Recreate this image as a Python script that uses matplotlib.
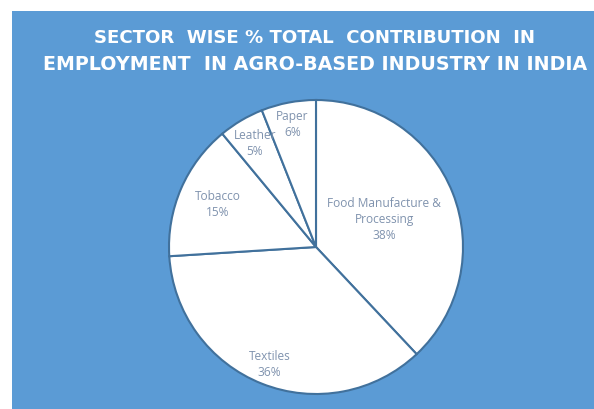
import numpy as np
import matplotlib
matplotlib.use("Agg")
import matplotlib.pyplot as plt
from matplotlib.patches import Rectangle

categories = ["Food Manufacture &\nProcessing", "Textiles", "Tobacco", "Leather", "Paper"]
values = [38, 36, 15, 5, 6]
title_lines = ["SECTOR  WISE % TOTAL  CONTRIBUTION  IN",
               "EMPLOYMENT  IN AGRO-BASED INDUSTRY IN INDIA"]

label_r = [0.50, 0.86, 0.73, 0.82, 0.85]

BLUE = "#5B9BD5"
EDGE = "#41719C"
TXT = "#8093AE"

fig = plt.figure(figsize=(5.94, 4.09), dpi=100)
fig.patch.set_facecolor("white")
fig.add_artist(Rectangle((12/594, 0), 1 - 12/594, (409 - 11)/409,
                         transform=fig.transFigure, facecolor=BLUE,
                         edgecolor="none", zorder=0))

cx, cy, R = 316, 247, 147
ax = fig.add_axes([(cx - R)/594, (409 - cy - R)/409, 2*R/594, 2*R/409])
ax.set_facecolor("none")
wedges, _ = ax.pie(values, startangle=90, counterclock=False, radius=1,
                   colors=["white"]*len(values),
                   wedgeprops=dict(edgecolor=EDGE, linewidth=1.5))
ax.set_xlim(-1.0, 1.0)
ax.set_ylim(-1.0, 1.0)
ax.axis("off")

for w, lab, v, r in zip(wedges, categories, values, label_r):
    ang = np.deg2rad((w.theta1 + w.theta2) / 2)
    ax.text(r*np.cos(ang), r*np.sin(ang), f"{lab}\n{v}%", ha="center", va="center",
            color=TXT, fontsize=8.6, family="Open Sans", linespacing=1.3)

for line, y, fs in zip(title_lines, [38, 64], [13.1, 13.7]):
    fig.text(315/594, 1 - y/409, line, ha="center", va="center", color="white",
             fontsize=fs, fontweight="bold", family="DejaVu Sans")

fig.savefig("out.png", dpi=100)
